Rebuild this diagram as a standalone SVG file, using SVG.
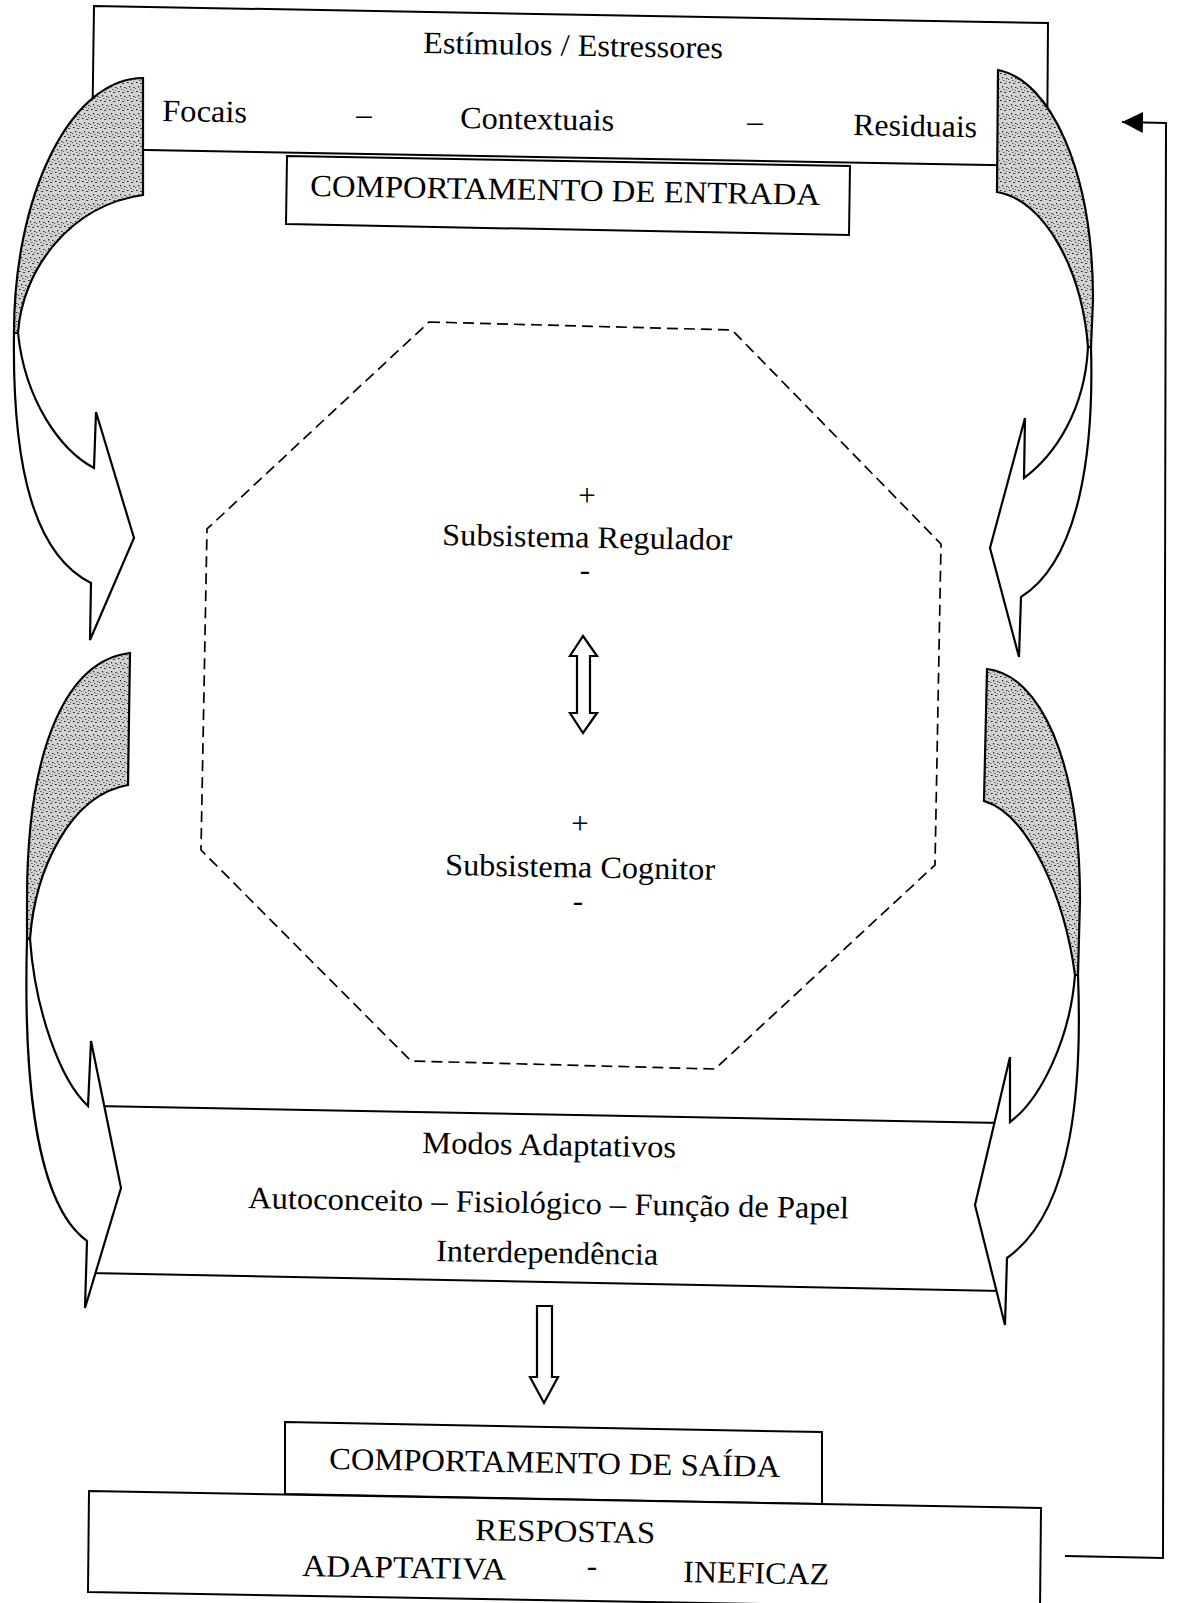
<svg xmlns="http://www.w3.org/2000/svg" width="1204" height="1603" viewBox="0 0 1204 1603">
<defs>
<style>
.box{fill:#fff;stroke:#000;stroke-width:2;stroke-linejoin:miter}
.t{font-family:"Liberation Serif","Times New Roman",serif;font-size:31px;fill:#000}
.arr{fill:#fff;stroke:#000;stroke-width:2.2;stroke-linejoin:miter}
.shade{fill:url(#stip);stroke:#000;stroke-width:2.2;stroke-linejoin:miter}
.oct{fill:none;stroke:#000;stroke-width:1.7;stroke-dasharray:11 6}
.fb{fill:none;stroke:#000;stroke-width:2}
</style>
<pattern id="stip" width="9" height="9" patternUnits="userSpaceOnUse">
<rect width="9" height="9" fill="#d2d2d2"/>
<rect x="1" y="1" width="1.6" height="1" fill="#111"/>
<rect x="5" y="2" width="2.2" height="1" fill="#444"/>
<rect x="3" y="5" width="1.2" height="1.4" fill="#222"/>
<rect x="7" y="6" width="1.5" height="1" fill="#333"/>
<rect x="0" y="7" width="1.2" height="1" fill="#555"/>
<rect x="4" y="8" width="1.6" height="0.9" fill="#555"/>
<rect x="7" y="0" width="1" height="1" fill="#666"/>
</pattern>
<marker id="ah" viewBox="0 0 21 21" refX="21" refY="10.5" markerWidth="21" markerHeight="21" markerUnits="userSpaceOnUse" orient="auto">
<path d="M0,0 L21,10.5 L0,21 Z" fill="#000"/>
</marker>
</defs>
<rect width="1204" height="1603" fill="#fff"/>

<g id="stimuli">
<polygon class="box" points="94,6 1048,23 1047,166 92,149"/>
<text class="t" x="423" y="53" textLength="300" lengthAdjust="spacingAndGlyphs" transform="rotate(1 423 53)">Estímulos / Estressores</text>
<text class="t" x="162" y="121" textLength="85" lengthAdjust="spacingAndGlyphs" transform="rotate(1 162 121)">Focais</text>
<text class="t" x="364" y="125" text-anchor="middle">–</text>
<text class="t" x="460" y="128" textLength="154" lengthAdjust="spacingAndGlyphs" transform="rotate(1 460 128)">Contextuais</text>
<text class="t" x="755" y="132" text-anchor="middle">–</text>
<text class="t" x="853" y="135" textLength="124" lengthAdjust="spacingAndGlyphs" transform="rotate(1 853 135)">Residuais</text>
</g>

<g id="entrada">
<polygon class="box" points="287,156 850,166 849,235 286,224"/>
<text class="t" x="310" y="196" textLength="510" lengthAdjust="spacingAndGlyphs" transform="rotate(1 310 196)">COMPORTAMENTO DE ENTRADA</text>
</g>

<g id="subsistemas">
<polygon class="oct" points="429,322 732,330 941,544 935,865 715,1069 411,1061 201,850 207,529"/>
<text class="t" x="587" y="506" text-anchor="middle">+</text>
<text class="t" x="442" y="545" textLength="290" lengthAdjust="spacingAndGlyphs" transform="rotate(1 442 545)">Subsistema Regulador</text>
<text class="t" x="585" y="580" text-anchor="middle">-</text>
<text class="t" x="580" y="834" text-anchor="middle">+</text>
<text class="t" x="445" y="875" textLength="270" lengthAdjust="spacingAndGlyphs" transform="rotate(1 445 875)">Subsistema Cognitor</text>
<text class="t" x="578" y="911" text-anchor="middle">-</text>
</g>

<g id="modos">
<polygon class="box" points="95,1106 1002,1123 1001,1291 90,1273"/>
<text class="t" x="422" y="1153" textLength="254" lengthAdjust="spacingAndGlyphs" transform="rotate(1 422 1153)">Modos Adaptativos</text>
<text class="t" x="248" y="1208" textLength="601" lengthAdjust="spacingAndGlyphs" transform="rotate(1 248 1208)">Autoconceito – Fisiológico – Função de Papel</text>
<text class="t" x="436" y="1261" textLength="222" lengthAdjust="spacingAndGlyphs" transform="rotate(1 436 1261)">Interdependência</text>
</g>

<g id="saida">
<polygon class="box" points="285,1422 822,1432 822,1504 285,1494"/>
<text class="t" x="329" y="1469" textLength="451" lengthAdjust="spacingAndGlyphs" transform="rotate(1 329 1469)">COMPORTAMENTO DE SAÍDA</text>
</g>

<g id="respostas">
<polygon class="box" points="89,1491 1041,1508 1040,1609 88,1592"/>
<text class="t" x="475" y="1540" textLength="180" lengthAdjust="spacingAndGlyphs" transform="rotate(1 475 1540)">RESPOSTAS</text>
<text class="t" x="302" y="1576" textLength="204" lengthAdjust="spacingAndGlyphs" transform="rotate(1 302 1576)">ADAPTATIVA</text>
<text class="t" x="592" y="1576" text-anchor="middle">-</text>
<text class="t" x="683" y="1582" textLength="146" lengthAdjust="spacingAndGlyphs" transform="rotate(1 683 1582)">INEFICAZ</text>
</g>

<g id="connectors">
<path class="shade" d="M143,78 A129,255 0 0 0 14,333 L18,333 C22,270 70,205 143,195 Z"/>
<path class="arr" d="M14,333 C12,470 35,555 91,583 L90,640 L134,538 L96,412 L94,468 C60,450 25,400 18,333 Z"/>
<path class="shade" d="M998,70 C1050,80 1093,170 1093,300 L1091,347 L1088,347 C1082,270 1045,200 997,192 Z"/>
<path class="arr" d="M1091,347 C1094,450 1080,560 1021,597 L1019,657 L990,548 L1025,418 L1024,478 C1055,455 1085,410 1088,347 Z"/>
<path class="shade" d="M130,653 C70,660 27,740 27,900 L27,939 L30,939 C35,870 70,795 128,785 Z"/>
<path class="arr" d="M27,939 C24,1050 30,1200 87,1241 L85,1308 L121,1188 L91,1041 L88,1106 C60,1080 35,1010 30,939 Z"/>
<path class="shade" d="M987,669 C1040,675 1080,760 1080,900 L1078,975 L1075,975 C1065,900 1030,815 984,801 Z"/>
<path class="arr" d="M1078,975 C1082,1080 1075,1210 1007,1258 L1005,1325 L975,1205 L1010,1057 L1010,1122 C1040,1100 1070,1040 1075,975 Z"/>
<polygon class="arr" points="583,636 597,656 590,656 590,713 597,713 583,733 570,713 577,713 577,656 570,656"/>
<polygon class="arr" points="537,1306 552,1306 552,1377 558,1377 544,1403 530,1377 537,1377"/>
<path class="fb" d="M1065,1556 L1163,1558 L1166,123 L1122,122" marker-end="url(#ah)"/>
</g>
</svg>
